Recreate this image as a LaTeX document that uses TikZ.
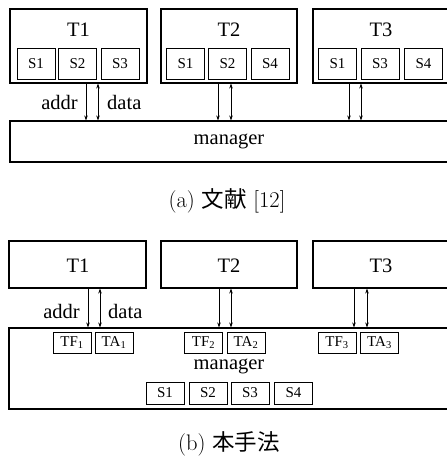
\documentclass[tikz,border=0pt]{standalone}
\usepackage{fontspec}
\setmainfont{Liberation Serif}
\newfontfamily\capfont{Latin Modern Roman}
\newfontfamily\jpfont{Noto Sans CJK JP}
\usetikzlibrary{arrows.meta}

\tikzset{
	bigbox/.style={draw, line width=1.1pt, inner sep=0pt},
	smallbox/.style={draw, line width=0.7pt, inner sep=0pt, minimum width=38pt, font=\fontsize{15}{15}\selectfont},
	bigtxt/.style={inner sep=0pt, font=\fontsize{20.5}{22}\selectfont},
	link/.style={line width=0.6pt, -{Stealth[length=5pt,width=3.5pt]}},
	dlink/.style={line width=0.6pt, {Stealth[length=5pt,width=3.5pt]}-{Stealth[length=5pt,width=3.5pt]}},
	captxt/.style={inner sep=0pt, font=\capfont\fontsize{22.5}{24}\selectfont}
}

\begin{document}
\begin{tikzpicture}[x=1pt, y=-1pt]
	\path[use as bounding box, clip] (0,0) rectangle (447,459);
	% (a) tasks holding their own S
	\node[bigbox, minimum width=137pt, minimum height=74pt] (ta1) at (78.5,46) {};
	\node[bigbox, minimum width=136pt, minimum height=74pt] (ta2) at (229,46) {};
	\node[bigbox, minimum width=149pt, minimum height=74pt] (ta3) at (387.5,46) {};
	\node[bigtxt] (ta1l) at (78.5,30) {T1};
	\node[bigtxt] (ta2l) at (229,30) {T2};
	\node[bigtxt] (ta3l) at (381,30) {T3};
	\node[smallbox, minimum height=31pt] (a1s1) at (36,63.5) {S1};
	\node[smallbox, minimum height=31pt] (a1s2) at (77.5,63.5) {S2};
	\node[smallbox, minimum height=31pt] (a1s3) at (120,63.5) {S3};
	\node[smallbox, minimum height=31pt] (a2s1) at (185.5,63.5) {S1};
	\node[smallbox, minimum height=31pt] (a2s2) at (227.5,63.5) {S2};
	\node[smallbox, minimum height=31pt] (a2s4) at (270,63.5) {S4};
	\node[smallbox, minimum height=31pt] (a3s1) at (337.5,63.5) {S1};
	\node[smallbox, minimum height=31pt] (a3s3) at (380,63.5) {S3};
	\node[smallbox, minimum height=31pt] (a3s4) at (423.5,63.5) {S4};
	\node[bigbox, minimum width=452pt, minimum height=41pt] (mga) at (236,141.5) {};
	\node[bigtxt] (mgal) at (229,141) {manager};
	\coordinate (xa1) at (86,0);
	\coordinate (xa2) at (98,0);
	\coordinate (xa3) at (218,0);
	\coordinate (xa4) at (231,0);
	\coordinate (xa5) at (349,0);
	\coordinate (xa6) at (361,0);
	\draw[link] (xa1 |- ta1.south) -- (xa1 |- mga.north);
	\draw[dlink] (xa2 |- ta1.south) -- (xa2 |- mga.north);
	\draw[link] (xa3 |- ta2.south) -- (xa3 |- mga.north);
	\draw[dlink] (xa4 |- ta2.south) -- (xa4 |- mga.north);
	\draw[link] (xa5 |- ta3.south) -- (xa5 |- mga.north);
	\draw[dlink] (xa6 |- ta3.south) -- (xa6 |- mga.north);
	\node[bigtxt, anchor=east] (addra) at (78,102) {addr};
	\node[bigtxt, anchor=west] (dataa) at (107,102) {data};
	\node[captxt] (capa) at (227,201) {(a)~{\jpfont 文献}~[12]};
	% (b) S kept in the manager
	\node[bigbox, minimum width=137pt, minimum height=47pt] (tb1) at (77.5,264.5) {};
	\node[bigbox, minimum width=136pt, minimum height=47pt] (tb2) at (229,264.5) {};
	\node[bigbox, minimum width=149pt, minimum height=47pt] (tb3) at (387.5,264.5) {};
	\node[bigtxt] (tb1l) at (78,266) {T1};
	\node[bigtxt] (tb2l) at (229,266) {T2};
	\node[bigtxt] (tb3l) at (381,266) {T3};
	\node[bigbox, minimum width=453pt, minimum height=81pt] (mgb) at (235.5,368.5) {};
	\node[smallbox, minimum height=21pt] (tf1) at (72,342.5) {TF\textsubscript{1}};
	\node[smallbox, minimum height=21pt] (tab1) at (114,342.5) {TA\textsubscript{1}};
	\node[smallbox, minimum height=21pt] (tf2) at (203.5,342.5) {TF\textsubscript{2}};
	\node[smallbox, minimum height=21pt] (tab2) at (246,342.5) {TA\textsubscript{2}};
	\node[smallbox, minimum height=21pt] (tf3) at (337,342.5) {TF\textsubscript{3}};
	\node[smallbox, minimum height=21pt] (tab3) at (379.5,342.5) {TA\textsubscript{3}};
	\node[bigtxt] (mgbl) at (229,366) {manager};
	\node[smallbox, minimum height=22pt] (bs1) at (165,393) {S1};
	\node[smallbox, minimum height=22pt] (bs2) at (208,393) {S2};
	\node[smallbox, minimum height=22pt] (bs3) at (250,393) {S3};
	\node[smallbox, minimum height=22pt] (bs4) at (293.5,393) {S4};
	\coordinate (xb1) at (88,0);
	\coordinate (xb2) at (100,0);
	\coordinate (xb3) at (219,0);
	\coordinate (xb4) at (231,0);
	\coordinate (xb5) at (354,0);
	\coordinate (xb6) at (367,0);
	\draw[link] (xb1 |- tb1.south) -- (xb1 |- mgb.north);
	\draw[dlink] (xb2 |- tb1.south) -- (xb2 |- mgb.north);
	\draw[link] (xb3 |- tb2.south) -- (xb3 |- mgb.north);
	\draw[dlink] (xb4 |- tb2.south) -- (xb4 |- mgb.north);
	\draw[link] (xb5 |- tb3.south) -- (xb5 |- mgb.north);
	\draw[dlink] (xb6 |- tb3.south) -- (xb6 |- mgb.north);
	\node[bigtxt, anchor=east] (addrb) at (80,311) {addr};
	\node[bigtxt, anchor=west] (datab) at (108,311) {data};
	\node[captxt] (capb) at (229,444) {(b)~{\jpfont 本手法}};
\end{tikzpicture}
\end{document}
